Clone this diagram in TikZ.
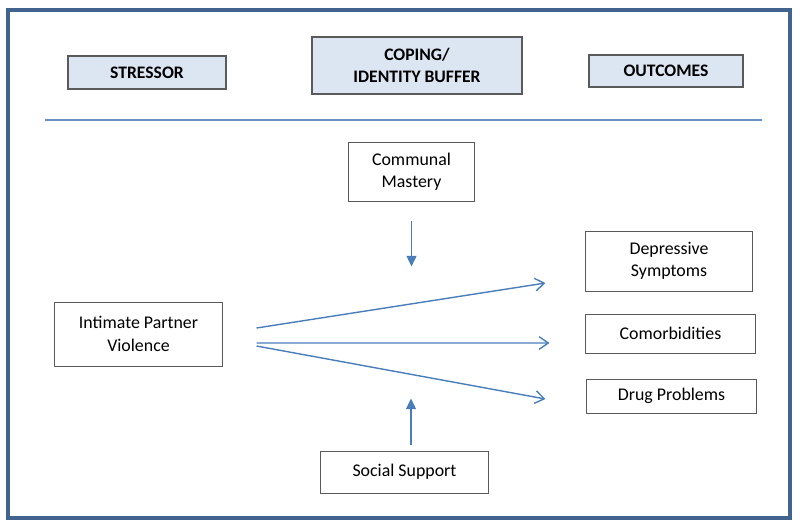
\documentclass[tikz,border=0pt]{standalone}
\usepackage{fontspec}
\setmainfont{Carlito}
\usepackage{xcolor}
\usepackage{tikz}
\usetikzlibrary{arrows.meta, positioning, calc}

\definecolor{framecol}{HTML}{41648F}
\definecolor{linecol}{HTML}{4A7EBB}
\definecolor{headfill}{HTML}{DCE6F2}
\definecolor{boxline}{HTML}{5A5A5A}

\begin{document}
\begin{tikzpicture}[
    x=0.025cm, y=-0.025cm,
    header/.style={
        rectangle,
        draw=boxline,
        line width=0.8pt,
        fill=headfill,
        align=center,
        inner sep=0pt,
        font=\fontsize{12.5}{16}\selectfont\bfseries
    },
    block/.style={
        rectangle,
        draw=boxline,
        line width=0.7pt,
        fill=white,
        align=center,
        inner sep=0pt,
        font=\fontsize{12.7}{16}\selectfont
    },
    arrow/.style={
        -{Straight Barb[length=6.5pt, width=9pt]},
        line width=1pt,
        color=linecol
    },
    buffer/.style={
        -{Triangle[length=7.5pt, width=7pt]},
        line width=1pt,
        color=linecol
    }
]
\useasboundingbox (0,0) rectangle (800,528);

% outer frame and rule
\draw[framecol, line width=2.2pt] (8,10) rectangle (790,518);
\draw[linecol!85!white, line width=0.9pt] (45,120) -- (762,120);

% column headers
\node[header, minimum width=3.95cm, minimum height=0.825cm] (stressor) at (147,72.5) {STRESSOR};
\node[header, minimum width=5.25cm, minimum height=1.425cm] (coping) at (417,65.5) {COPING/\\IDENTITY BUFFER};
\node[header, minimum width=3.85cm, minimum height=0.8cm] (outcomes) at (666,71) {OUTCOMES};

% stressor
\node[block, minimum width=4.175cm, minimum height=1.6cm] (ipv) at (138.5,334) {Intimate Partner\\Violence};

% buffers
\node[block, minimum width=3.125cm, minimum height=1.475cm] (mastery) at (411.5,171.5) {Communal\\Mastery};
\node[block, minimum width=4.175cm, minimum height=1.05cm] (support) at (404.5,472) {Social Support};

% outcomes
\node[block, minimum width=4.15cm, minimum height=1.5cm] (depression) at (669,261) {Depressive\\Symptoms};
\node[block, minimum width=4.225cm, minimum height=0.975cm] (comorbid) at (670.5,333.5) {Comorbidities};
\node[block, minimum width=4.225cm, minimum height=0.85cm] (drugs) at (671.5,396) {Drug Problems};

% arrow ends
\coordinate (ipvtop) at ($(ipv.east)+(34,-6)$);
\coordinate (ipvmid) at ($(ipv.east)+(34,9)$);
\coordinate (ipvbot) at ($(ipv.east)+(34,12)$);
\coordinate (deptip) at ($(depression.west)+(-40,22)$);
\coordinate (comtip) at ($(comorbid.west)+(-36,9.5)$);
\coordinate (drugtip) at ($(drugs.west)+(-41,3)$);
\coordinate (masterytip) at ($(mastery.south)+(0,65)$);
\coordinate (supporttip) at ($(support.north)+(6.5,-52)$);
\coordinate (masteryout) at ($(mastery.south)+(0,19)$);
\coordinate (supportout) at ($(support.north)+(6.5,-6)$);

% Arrows
\draw[arrow] (ipvtop) -- (deptip);
\draw[arrow] (ipvmid) -- (comtip);
\draw[arrow] (ipvbot) -- (drugtip);
\draw[buffer] (masteryout) -- (masterytip);
\draw[buffer] (supportout) -- (supporttip);

\end{tikzpicture}
\end{document}
